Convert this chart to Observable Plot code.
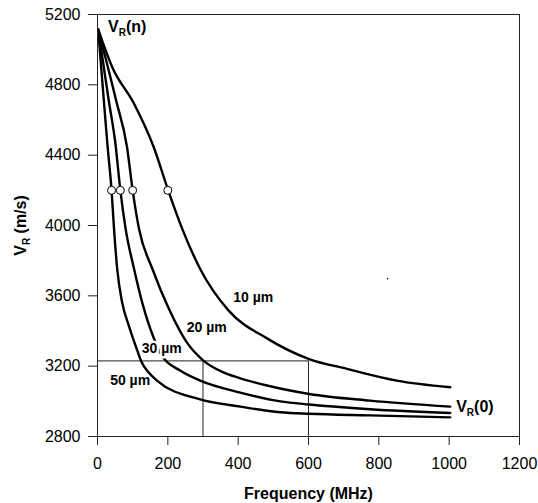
<!DOCTYPE html>
<html>
<head>
<meta charset="utf-8">
<script src="https://cdn.jsdelivr.net/npm/d3@7"></script>
<script src="https://cdn.jsdelivr.net/npm/@observablehq/plot@0.6"></script>
<style>
  html, body { margin: 0; padding: 0; background: #fff; }
  #chart { width: 538px; height: 503px; }
</style>
</head>
<body>
<div id="chart"></div>
<script>
// ---- data ----
const thicknessLabels = ["10 µm", "20 µm", "30 µm", "50 µm"];

const freq10 = [2, 42, 104, 160, 201, 241, 292, 373, 482, 602, 709, 851, 1003];
const vel10  = [5115, 4900, 4692, 4445, 4200, 3981, 3753, 3516, 3358, 3240, 3185, 3118, 3080];

const freq20 = [2, 53, 84, 100, 118, 156, 203, 254, 301, 358, 400, 482, 602, 775, 1003];
const vel20  = [5115, 4711, 4445, 4200, 3981, 3754, 3526, 3335, 3232, 3165, 3135, 3090, 3042, 3004, 2970];

const freq30 = [2, 32, 51, 65, 80, 104, 127, 160, 183, 235, 292, 406, 520, 602, 775, 1003];
const vel30  = [5115, 4711, 4465, 4200, 3981, 3753, 3563, 3360, 3260, 3175, 3118, 3050, 3000, 2982, 2955, 2934];

const freq50 = [2, 18, 28, 40, 47, 56, 70, 89, 113, 125, 145, 169, 292, 406, 520, 602, 775, 1003];
const vel50  = [5115, 4711, 4465, 4200, 3981, 3753, 3563, 3431, 3290, 3225, 3165, 3118, 3011, 2970, 2938, 2929, 2920, 2909];

// open circles marking V_R = 4200 m/s
const markerFreqs = [40, 65, 100, 200];
const markerVelocity = 4200;

// guide lines
const guideFreqs = [300, 600];
const guideVelocity = 3230;

// annotation labels (data coordinates)
const labelFreqs = [386, 254, 126, 36];
const labelVels  = [3592, 3418, 3298, 3118];
const endLabels = ["V_R(n)", "V_R(0)"];
const endLabelFreqs = [30, 1020];
const endLabelVels = [5128, 2966];

// stray dot in the original figure
const dotFreq = [825];
const dotVel = [3697];

const xTicks = [0, 200, 400, 600, 800, 1000, 1200];
const yTicks = [2800, 3200, 3600, 4000, 4400, 4800, 5200];

// ---- build tables ----
const series = [[freq10, vel10], [freq20, vel20], [freq30, vel30], [freq50, vel50]];
const rows = series.flatMap(([fs, vs], k) => fs.map((f, i) => ({thickness: thicknessLabels[k], f, v: vs[i]})));
const labelRows = thicknessLabels.map((t, i) => ({t, f: labelFreqs[i], v: labelVels[i]}));
const endRows = endLabels.map((t, i) => ({t, f: endLabelFreqs[i], v: endLabelVels[i]}));
const markerRows = markerFreqs.map(f => ({f, v: markerVelocity}));

const font = "'Liberation Sans', Arial, Helvetica, sans-serif";

const chart = Plot.plot({
  width: 538,
  height: 503,
  marginLeft: 97,
  marginRight: 19,
  marginTop: 14,
  marginBottom: 67,
  style: {fontFamily: font, fontSize: "16px", background: "#fff", color: "#000"},
  x: {domain: [0, 1200]},
  y: {domain: [2800, 5200]},
  marks: [
    Plot.axisX({ticks: xTicks, tickSize: 9, tickPadding: 12, tickFormat: d => String(d),
      label: "Frequency (MHz)", labelAnchor: "center", labelOffset: 62, labelArrow: "none", stroke: "#222"}),
    Plot.axisY({ticks: yTicks, tickSize: 9, tickPadding: 8, tickFormat: d => String(d),
      label: "V_R (m/s)", labelAnchor: "center", labelOffset: 83, labelArrow: "none", stroke: "#222"}),
    Plot.ruleY([guideVelocity], {x1: 0, x2: d3.max(guideFreqs), stroke: "#222", strokeWidth: 1}),
    Plot.ruleX(guideFreqs, {y1: 2800, y2: guideVelocity, stroke: "#222", strokeWidth: 1}),
    Plot.line(rows.filter(d => d.thickness !== "50 µm"), {x: "f", y: "v", z: "thickness", curve: "monotone-x", stroke: "#000", strokeWidth: 2.4}),
    Plot.text(labelRows, {x: "f", y: "v", text: "t", textAnchor: "start", lineAnchor: "middle",
      fontWeight: "bold", fontSize: 14, fill: "#000", stroke: "#fff", strokeWidth: 5, paintOrder: "stroke"}),
    Plot.line(rows.filter(d => d.thickness === "50 µm"), {x: "f", y: "v", curve: "monotone-x", stroke: "#000", strokeWidth: 2.4}),
    Plot.dot(markerRows, {x: "f", y: "v", r: 4, fill: "#fff", stroke: "#000", strokeWidth: 1}),
    Plot.dot(dotFreq.map((f, i) => ({f, v: dotVel[i]})), {x: "f", y: "v", r: 0.8, fill: "#000"}),
    Plot.text(endRows, {x: "f", y: "v", text: "t", textAnchor: "start", lineAnchor: "middle",
      fontWeight: "bold", fontSize: 16, fill: "#000"}),
    Plot.frame({stroke: "#222", strokeWidth: 1})
  ]
});

// subscripts for V_R and bold axis labels
const NS = "http://www.w3.org/2000/svg";
chart.querySelectorAll("text").forEach(el => {
  const nodes = el.querySelector("tspan") ? [...el.querySelectorAll("tspan")] : [el];
  nodes.forEach(node => {
    const t = node.textContent;
    const i = t.indexOf("_R");
    if (i < 0) return;
    node.textContent = "";
    const a = document.createElementNS(NS, "tspan"); a.textContent = t.slice(0, i);
    const r = document.createElementNS(NS, "tspan"); r.textContent = "R";
    r.setAttribute("font-size", "10"); r.setAttribute("dy", "4");
    const b = document.createElementNS(NS, "tspan"); b.textContent = t.slice(i + 2);
    b.setAttribute("dy", "-4");
    node.append(a, r, b);
  });
});
chart.querySelectorAll('[aria-label="x-axis label"], [aria-label="y-axis label"]').forEach(g => {
  g.setAttribute("font-weight", "bold");
});

document.getElementById("chart").append(chart);
</script>
</body>
</html>
